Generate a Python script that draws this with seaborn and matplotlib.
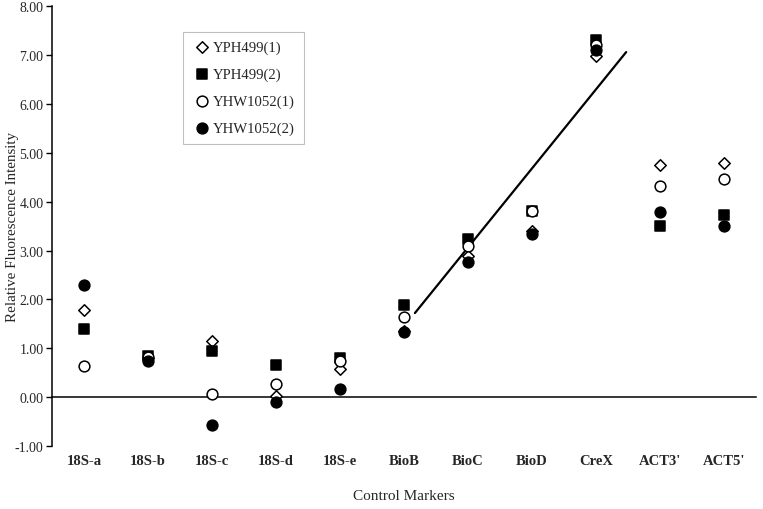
import numpy as np
import pandas as pd
import matplotlib
matplotlib.use('Agg')
import matplotlib.pyplot as plt
import seaborn as sns

# Data
markers = ['18S-a', '18S-b', '18S-c', '18S-d', '18S-e', 'BioB', 'BioC', 'BioD', 'CreX', "ACT3'", "ACT5'"]
yph499_1 = [1.78, 0.80, 1.15, 0.02, 0.58, 1.35, 2.89, 3.40, 6.97, 4.74, 4.80]
yph499_2 = [1.39, 0.84, 0.94, 0.66, 0.80, 1.89, 3.24, 3.81, 7.30, 3.51, 3.73]
yhw1052_1 = [0.64, 0.82, 0.07, 0.27, 0.74, 1.64, 3.10, 3.81, 7.20, 4.31, 4.47]
yhw1052_2 = [2.30, 0.74, -0.57, -0.10, 0.16, 1.33, 2.77, 3.34, 7.10, 3.79, 3.51]
series_names = ['YPH499(1)', 'YPH499(2)', 'YHW1052(1)', 'YHW1052(2)']

# trend line end points (category index, value)
trend_x = [5.17, 8.47]
trend_y = [1.72, 7.06]

yticks = [-1, 0, 1, 2, 3, 4, 5, 6, 7, 8]
ytick_labels = ['-1.00', '0.00', '1.00', '2.00', '3.00', '4.00', '5.00', '6.00', '7.00', '8.00']

sns.set_style('white')
plt.rcParams['font.family'] = ['Liberation Serif', 'DejaVu Serif']

df = pd.DataFrame({'Marker': markers * 4,
                   'Series': np.repeat(series_names, len(markers)),
                   'Value': yph499_1 + yph499_2 + yhw1052_1 + yhw1052_2})

fig = plt.figure(figsize=(7.63, 5.10), dpi=100)
ax = fig.add_axes([0.068, 0.1235, 0.923, 0.8625])

shapes = ['D', 's', 'o', 'o']
faces = ['white', 'black', 'white', 'black']
sizes = [34, 60, 60, 60]
for name, mk, fc, sz in zip(series_names, shapes, faces, sizes):
    sns.scatterplot(data=df[df['Series'] == name], x='Marker', y='Value', marker=mk,
                    color=fc, edgecolor='black', linewidth=1.1, s=sz, label=name, ax=ax, zorder=3)

# trend line
sns.lineplot(x=trend_x, y=trend_y, color='black', linewidth=1.6, ax=ax, zorder=2)

ax.set_xlim(-0.5, len(markers) - 0.5)
ax.set_ylim(-1, 8)
ax.set_yticks(yticks)
ax.set_yticklabels(ytick_labels, fontsize=10)

ax.spines['top'].set_visible(False)
ax.spines['right'].set_visible(False)
ax.spines['bottom'].set_position(('data', 0))
for sp in ['left', 'bottom']:
    ax.spines[sp].set_linewidth(1.1)
    ax.spines[sp].set_color('black')

# category labels below the plot, tick marks between categories on the zero line
ax.set_xticks(range(len(markers)))
ax.set_xticklabels(markers, fontsize=10.5, fontweight='bold')
ax.tick_params(axis='x', which='major', length=0, pad=41)
ax.set_xticks(np.arange(0.5, len(markers) - 0.5, 1), minor=True)
ax.tick_params(axis='x', which='minor', direction='out', length=4, width=1, color='black')
ax.tick_params(axis='y', direction='out', length=4, width=1, color='black', left=True, pad=2)

ax.set_xlabel('Control Markers', fontsize=11)
ax.set_ylabel('Relative Fluorescence Intensity', fontsize=10.8)
ax.xaxis.set_label_coords(0.5, -0.097)
ax.yaxis.set_label_coords(-0.047, 0.5)

leg = ax.legend(loc='upper left', bbox_to_anchor=(0.186, 0.941), frameon=True, fancybox=False,
                fontsize=10.6, handletextpad=0.05, labelspacing=0.92, handlelength=1.4,
                borderpad=0.6, borderaxespad=0)
leg.get_frame().set_edgecolor('#b0b0b0')
leg.get_frame().set_linewidth(0.8)

fig.savefig('out.png', dpi=100)
